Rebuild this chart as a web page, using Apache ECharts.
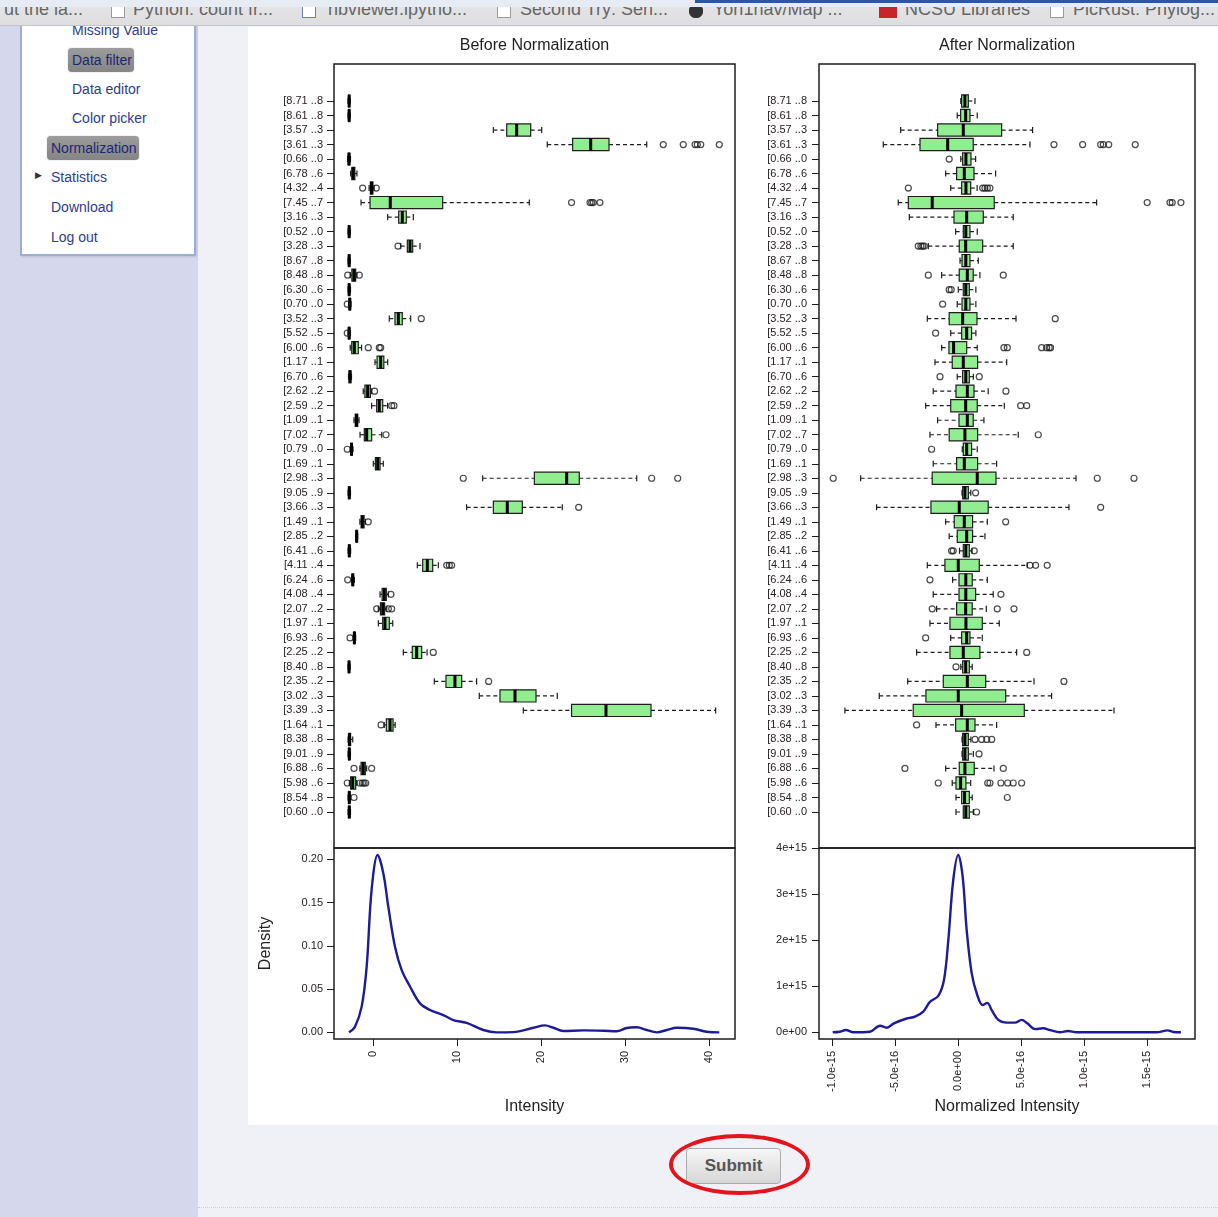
<!DOCTYPE html>
<html>
<head>
<meta charset="utf-8">
<title>Normalization</title>
<script src="https://cdn.jsdelivr.net/npm/echarts@6/dist/echarts.min.js"></script>
<style>
  body { margin: 0; width: 1218px; height: 1217px; overflow: hidden; font-family: "Liberation Sans", Arial, sans-serif; background: #eff1f6; position: relative; }
  .abs { position: absolute; }
  #topbar { left: 0; top: 0; width: 1218px; height: 25px; background: linear-gradient(#e6e6e8, #dedee0); border-bottom: 1px solid #c4c5ca; overflow: hidden; z-index: 5; }
  #topbar span { position: absolute; top: 0; font-size: 18px; line-height: 18px; color: #666; white-space: nowrap; }
  #topbar i { position: absolute; top: 4px; width: 12px; height: 12px; border: 1px solid #9a9a9a; background: #fff; }
  #veil { left: 0; top: 0; width: 1218px; height: 7px; background: #e7ebf3; }
  #sidebar { left: 0; top: 26px; width: 198px; height: 1191px; background: #d5d8ec; }
  #panel { left: 20px; top: -10px; width: 172px; height: 238px; background: #fff; border: 2px solid #9cafd2; border-top: none; box-shadow: 1px 1px 2px #b8bfd8; }
  .menu { position: absolute; font-size: 14px; color: #2d3c96; white-space: nowrap; line-height: 16px; }
  .hl { position: absolute; background: linear-gradient(#9c9c9c, #858585); border-radius: 4px; box-shadow: 0 0 1px #777; }
  #chart { left: 248px; top: 27px; width: 970px; height: 1098px; background: #fff; }
  #submit { left: 686px; top: 1148px; width: 93px; height: 34px; border: 1px solid #ababab; border-radius: 4px; background: linear-gradient(#f7f7f7, #d6d6d6); font-size: 17px; font-weight: bold; color: #555; text-align: center; line-height: 34px; }
  #ring { left: 669px; top: 1134px; width: 133px; height: 53px; border: 4px solid #e3141b; border-radius: 50%; }
  #foot { left: 198px; top: 1207px; width: 1020px; height: 0; border-top: 1px dotted #c9cdd6; }
</style>
</head>
<body>
<div id="sidebar" class="abs">
  <div id="panel" class="abs"></div>
</div>
<div class="hl" style="left:68px;top:48px;width:66px;height:24px;"></div>
<div class="hl" style="left:47px;top:136px;width:92px;height:24px;"></div>
<div class="menu" style="left:72px;top:22px;">Missing Value</div>
<div class="menu" style="left:72px;top:52px;color:#1c2778;">Data filter</div>
<div class="menu" style="left:72px;top:81px;">Data editor</div>
<div class="menu" style="left:72px;top:110px;">Color picker</div>
<div class="menu" style="left:51px;top:140px;color:#1c2778;">Normalization</div>
<div class="menu" style="left:35px;top:167px;font-size:9px;color:#333;">&#9654;</div>
<div class="menu" style="left:51px;top:169px;">Statistics</div>
<div class="menu" style="left:51px;top:199px;">Download</div>
<div class="menu" style="left:51px;top:229px;">Log out</div>

<div id="topbar" class="abs">
  <span style="left:4px;">ut the la...</span>
  <i style="left:111px;"></i>
  <span style="left:133px;">Python: count fr...</span>
  <i style="left:302px;border-color:#6a7fb0;"></i>
  <span style="left:328px;">nbviewer.ipytho...</span>
  <i style="left:497px;"></i>
  <span style="left:520px;">Second Try: Sen...</span>
  <i style="left:689px;background:#333;border-color:#333;border-radius:6px;"></i>
  <span style="left:713px;">Yon1hav/Map ...</span>
  <i style="left:879px;width:16px;background:#c8242a;border-color:#c8242a;"></i>
  <span style="left:905px;">NCSU Libraries</span>
  <i style="left:1050px;"></i>
  <span style="left:1073px;">PicRust: Phylog...</span>
  <div id="veil" class="abs"></div>
  <div class="abs" style="left:695px;top:0;width:523px;height:3px;background:#2b57a6;"></div>
</div>

<div id="chart" class="abs"></div>
<div id="submit" class="abs">Submit</div>
<div id="ring" class="abs"></div>
<div id="foot" class="abs"></div>

<script type="text/javascript">
// probe labels, top to bottom
var categories = ['[8.71 ..8','[8.61 ..8','[3.57 ..3','[3.61 ..3','[0.66 ..0','[6.78 ..6','[4.32 ..4','[7.45 ..7','[3.16 ..3','[0.52 ..0',
  '[3.28 ..3','[8.67 ..8','[8.48 ..8','[6.30 ..6','[0.70 ..0','[3.52 ..3','[5.52 ..5','[6.00 ..6','[1.17 ..1','[6.70 ..6',
  '[2.62 ..2','[2.59 ..2','[1.09 ..1','[7.02 ..7','[0.79 ..0','[1.69 ..1','[2.98 ..3','[9.05 ..9','[3.66 ..3','[1.49 ..1',
  '[2.85 ..2','[6.41 ..6','[4.11 ..4','[6.24 ..6','[4.08 ..4','[2.07 ..2','[1.97 ..1','[6.93 ..6','[2.25 ..2','[8.40 ..8',
  '[2.35 ..2','[3.02 ..3','[3.39 ..3','[1.64 ..1','[8.38 ..8','[9.01 ..9','[6.88 ..6','[5.98 ..6','[8.54 ..8','[0.60 ..0'];

// before normalization: [min, q1, median, q3, max]
var beforeBoxes = [
  [-3.0,-2.95,-2.88,-2.8,-2.75], [-3.0,-2.95,-2.88,-2.8,-2.75], [14.29,15.88,17.07,18.74,20.05], [20.71,23.73,25.88,28.06,32.55],
  [-3.05,-2.98,-2.9,-2.8,-2.72], [-2.7,-2.55,-2.4,-2.2,-1.95], [-0.5,-0.35,-0.2,-0.05,0.1], [-1.46,-0.39,2.02,8.26,18.57],
  [1.71,3.02,3.45,3.93,4.76], [-3.0,-2.95,-2.88,-2.8,-2.75], [3.26,4.05,4.37,4.69,5.56], [-3.0,-2.95,-2.88,-2.8,-2.75],
  [-2.75,-2.55,-2.3,-2.1,-1.95], [-3.0,-2.95,-2.88,-2.8,-2.72], [-2.95,-2.88,-2.8,-2.72,-2.65], [1.9,2.58,2.98,3.45,4.45],
  [-3.0,-2.95,-2.88,-2.8,-2.72], [-2.75,-2.57,-2.26,-1.79,-1.4], [0.2,0.45,0.88,1.25,1.71], [-2.95,-2.88,-2.77,-2.68,-2.6],
  [-1.2,-1.0,-0.67,-0.35,-0.2], [-0.2,0.4,0.71,1.12,1.7], [-2.3,-2.15,-2.0,-1.85,-1.7], [-1.58,-1.07,-0.79,-0.2,1.0],
  [-2.75,-2.68,-2.6,-2.5,-2.42], [0.0,0.25,0.52,0.8,1.19], [13.02,19.17,23.02,24.52,31.36], [-3.0,-2.95,-2.86,-2.78,-2.72],
  [11.11,14.29,15.95,17.74,22.5], [-1.6,-1.45,-1.3,-1.1,-0.95], [-2.1,-2.05,-1.98,-1.92,-1.86], [-3.0,-2.95,-2.86,-2.78,-2.7],
  [5.24,5.88,6.43,7.07,7.74], [-2.6,-2.52,-2.45,-2.35,-2.25], [0.8,1.05,1.31,1.55,1.8], [0.6,0.85,1.12,1.35,1.6],
  [0.6,1.12,1.39,1.9,2.31], [-2.4,-2.32,-2.26,-2.18,-2.1], [3.57,4.64,5.16,5.76,6.4], [-3.0,-2.96,-2.89,-2.82,-2.76],
  [7.26,8.65,9.72,10.52,12.3], [12.62,15.08,16.87,19.37,21.9], [17.86,23.6,27.7,33.06,40.76], [1.3,1.55,1.99,2.35,2.6],
  [-3.0,-2.92,-2.85,-2.7,-2.45], [-3.0,-2.95,-2.86,-2.78,-2.72], [-1.6,-1.46,-1.2,-0.95,-0.79], [-2.85,-2.7,-2.45,-2.1,-1.98],
  [-3.0,-2.95,-2.86,-2.78,-2.7], [-3.0,-2.95,-2.86,-2.78,-2.72]
];
var beforeOutliers = [
  [], [], [], [34.52,36.9,38.3,38.57,38.98,41.19], [], [], [-1.27,0.35], [23.6,25.8,26.0,26.19,26.98], [], [],
  [2.94], [], [-3.05,-1.67], [], [-3.1], [5.71], [-3.1], [-0.6,0.71,0.88], [], [],
  [0.15], [2.19,2.46], [], [1.51], [-3.1], [], [10.71,33.14,36.24], [], [24.45], [-0.6],
  [], [], [8.74,9.05,9.33], [-3.05], [2.1], [0.4,1.79,2.19], [], [-2.77], [7.14], [],
  [13.73], [], [], [0.92], [], [], [-2.3,-0.2], [-3.1,-1.58,-1.3,-1.1,-0.9], [-2.3], []
];

// after normalization, in units of 1e-16
var afterBoxes = [
  [0.2,0.27,0.53,0.8,1.33], [-0.08,0.19,0.59,0.93,1.51], [-4.58,-1.64,0.4,3.45,5.91], [-5.96,-3.04,-0.84,1.19,5.7],
  [0.2,0.35,0.61,1.01,1.38], [-1.0,-0.13,0.48,1.25,2.97], [-0.6,0.27,0.61,0.99,1.5], [-4.77,-3.97,-2.07,2.86,11.0],
  [-3.89,-0.34,0.67,1.99,4.37], [-0.21,0.4,0.6,0.93,1.51], [-2.38,0.08,0.59,1.94,4.37], [0.14,0.3,0.6,0.93,1.59],
  [-1.32,0.08,0.72,1.19,1.72], [0.0,0.4,0.6,0.88,1.4], [-0.08,0.3,0.6,0.93,1.4], [-2.46,-0.72,0.35,1.49,4.59],
  [-0.6,0.27,0.67,1.06,1.4], [-1.32,-0.74,-0.37,0.67,1.51], [-1.85,-0.48,0.4,1.54,3.85], [-0.08,0.35,0.6,0.88,1.2],
  [-1.99,-0.18,0.72,1.25,2.38], [-2.59,-0.6,0.59,1.51,3.66], [-1.64,0.06,0.72,1.19,2.04], [-2.25,-0.72,0.53,1.54,4.77],
  [0.32,0.4,0.67,1.06,1.51], [-1.99,-0.13,0.48,1.54,3.05], [-7.76,-2.07,1.51,3.0,9.36], [0.3,0.35,0.53,0.8,1.0],
  [-6.49,-2.17,0.08,2.38,8.8], [-1.0,-0.32,0.48,1.14,2.31], [-0.72,-0.08,0.67,1.14,2.12], [0.1,0.4,0.6,0.88,1.1],
  [-2.46,-1.06,0.0,1.67,5.49], [-0.45,0.06,0.6,1.11,2.31], [-1.99,0.06,0.6,1.38,2.78], [-1.72,-0.13,0.59,1.11,2.23],
  [-2.25,-0.66,0.61,1.91,3.26], [-0.6,0.27,0.67,0.93,1.91], [-3.31,-0.66,0.4,1.72,4.64], [0.2,0.35,0.59,0.88,1.11],
  [-4.02,-1.19,0.72,2.18,6.02], [-6.28,-2.57,0.0,3.77,7.42], [-9.01,-3.58,0.27,5.25,12.38], [-1.77,-0.21,0.72,1.33,3.05],
  [0.3,0.35,0.53,0.8,1.0], [0.3,0.35,0.53,0.8,1.2], [-1.0,0.08,0.53,1.27,2.84], [-0.48,-0.18,0.19,0.61,0.99],
  [-0.18,0.27,0.5,0.88,1.11], [-0.18,0.4,0.6,0.88,1.2]
];
var afterOutliers = [
  [], [], [], [7.61,9.89,11.32,11.53,11.96,14.07], [-0.72], [], [-3.97,1.94,2.12,2.31,2.52], [15.02,16.83,17.01,17.7], [], [],
  [-3.18,-2.97,-2.83,-2.7], [], [-2.38,3.58], [-0.72,-0.56], [-1.24], [7.71], [-1.8], [3.63,3.9,6.63,7.03,7.23,7.34], [], [-1.45,1.67],
  [3.79], [4.96,5.44], [], [6.36], [-2.12], [], [-9.94,11.05,13.97], [1.38], [11.32], [3.77],
  [], [-0.53,-0.4,1.27], [5.7,6.15,7.07], [-2.25], [3.39], [-2.07,3.1,4.43], [], [-2.59], [5.44], [-0.18],
  [8.4], [], [], [-3.31], [1.33,1.86,2.26,2.66], [1.65], [-4.24,3.58], [-1.59,2.34,2.52,3.39,3.93,4.37,5.04], [3.9], [1.46]
];

// density curves
var beforeDensityX = [-2.89,-2.18,-1.38,-0.79,-0.2,0.52,1.19,1.79,2.58,3.38,4.37,5.56,6.75,8.33,9.52,11.11,13.1,14.69,16.67,
  19.05,20.44,21.43,22.62,25.0,27.38,28.97,30.16,31.35,32.55,33.74,34.93,36.12,38.1,39.69,41.19];
var beforeDensityY = [0.0,0.0065,0.03,0.076,0.165,0.205,0.184,0.145,0.099,0.072,0.053,0.0335,0.0258,0.02,0.0142,0.011,0.0027,0.0,0.0003,
  0.0053,0.008,0.0053,0.0015,0.0023,0.0019,0.0012,0.005,0.0058,0.0027,0.0,0.0027,0.0053,0.0042,0.0007,0.0];
var afterDensityX = [-9.98,-9.4,-8.93,-8.35,-7.02,-6.22,-5.69,-5.11,-4.1,-3.44,-2.78,-2.25,-1.59,-1.14,-0.79,-0.4,0,0.35,0.67,
  1.07,1.51,1.94,2.31,2.66,3.18,3.85,4.51,5.04,5.49,6.1,6.76,7.29,8.08,8.74,9.41,15.77,16.65,17.09,17.7];
var afterDensityY = [0,0.013,0.05,0,0.013,0.143,0.1,0.195,0.3,0.34,0.45,0.66,0.79,1.13,2.0,3.3,3.85,3.38,2.22,
  1.28,0.81,0.59,0.64,0.48,0.27,0.21,0.21,0.27,0.195,0.07,0.087,0.05,0,0.03,0,0,0.043,0.007,0];

// tick values
var beforeTicks = [0, 10, 20, 30, 40];
var beforeDensityTicks = [0, 0.05, 0.1, 0.15, 0.2];
var afterTicks = [-10, -5, 0, 5, 10, 15];          // x 1e-16
var afterDensityTicks = [0, 1, 2, 3, 4];           // x 1e15

var INK = '#1e1e1e', GREEN = '#90ee90', NAVY = '#1c1c96';
var FONT = '"Liberation Sans", Arial, sans-serif';

function sci(v, digits) {
  return v.toExponential(digits).replace(/e([+-])(\d)$/, 'e$10$2');
}

function renderBox(params, api) {
  var idx = api.value(0);
  var lo = api.coord([api.value(1), idx]);
  var q1 = api.coord([api.value(2), idx]);
  var md = api.coord([api.value(3), idx]);
  var q3 = api.coord([api.value(4), idx]);
  var hi = api.coord([api.value(5), idx]);
  var h = api.size([0, 1])[1] * 0.84;
  var y = lo[1], cap = h * 0.25;
  var dash = { stroke: INK, lineWidth: 1.2, lineDash: [4, 3] };
  var solid = { stroke: INK, lineWidth: 1.2 };
  return {
    type: 'group',
    children: [
      { type: 'line', shape: { x1: lo[0], y1: y, x2: q1[0], y2: y }, style: dash },
      { type: 'line', shape: { x1: q3[0], y1: y, x2: hi[0], y2: y }, style: dash },
      { type: 'line', shape: { x1: lo[0], y1: y - cap, x2: lo[0], y2: y + cap }, style: solid },
      { type: 'line', shape: { x1: hi[0], y1: y - cap, x2: hi[0], y2: y + cap }, style: solid },
      { type: 'rect', shape: { x: q1[0], y: y - h / 2, width: q3[0] - q1[0], height: h }, style: { fill: GREEN, stroke: INK, lineWidth: 1.2 } },
      { type: 'line', shape: { x1: md[0], y1: y - h / 2, x2: md[0], y2: y + h / 2 }, style: { stroke: '#000', lineWidth: 3 } }
    ]
  };
}

function boxRows(boxes) {
  return boxes.map(function (b, i) { return [i].concat(b); });
}
function outlierPoints(outs) {
  var pts = [];
  outs.forEach(function (list, i) { list.forEach(function (v) { pts.push([v, i]); }); });
  return pts;
}
function pairs(xs, ys) {
  return xs.map(function (x, i) { return [x, ys[i]]; });
}

var bMin = -4.68, bMax = 43.06, aMin = -11.07, aMax = 18.82;

var frame = { show: true, borderColor: INK, borderWidth: 1.5, backgroundColor: 'transparent', outerBoundsMode: 'none' };
function g(left, top, width, height, framed) {
  var o = { left: left, top: top, width: width, height: height, outerBoundsMode: 'none' };
  if (framed) { for (var k in frame) o[k] = frame[k]; }
  return o;
}

var labelStyle = { fontSize: 11, color: '#2a2222', fontFamily: FONT };
var tick = { show: true, inside: false, length: 7, lineStyle: { color: INK, width: 1 } };
var noLine = { show: false, onZero: false };
var nameStyle = { fontSize: 16, color: '#222', fontFamily: FONT };

function hidden(gridIndex, min, max) {
  return { type: 'value', gridIndex: gridIndex, show: false, min: min, max: max, splitLine: { show: false }, axisLine: noLine };
}
function catAxis(gridIndex, margin) {
  return {
    type: 'category', gridIndex: gridIndex, data: categories, inverse: true,
    axisLine: noLine,
    axisTick: { show: true, alignWithLabel: true, length: 7, lineStyle: { color: INK } },
    axisLabel: Object.assign({ margin: margin, interval: 0 }, labelStyle),
    splitLine: { show: false }
  };
}

var myChart = echarts.init(document.getElementById('chart'));
var option = {
  animation: false,
  backgroundColor: '#fff',
  grid: [
    g(86, 37, 401, 784, true),
    g(86, 66.75, 401, 725.5, false),
    g(86, 821, 401, 191, true),
    g(571, 37, 376, 784, true),
    g(571, 66.75, 376, 725.5, false),
    g(571, 821, 376, 191, true)
  ],
  xAxis: [
    hidden(0, 0, 1),
    hidden(1, bMin, bMax),
    {
      type: 'value', gridIndex: 2, min: bMin, max: bMax, position: 'bottom',
      axisLine: noLine, splitLine: { show: false },
      axisTick: Object.assign({ customValues: beforeTicks }, tick),
      axisLabel: Object.assign({ customValues: beforeTicks, rotate: 90, margin: 12, formatter: function (v) { return String(v); } }, labelStyle),
      name: 'Intensity', nameLocation: 'middle', nameGap: 60, nameTextStyle: nameStyle
    },
    hidden(3, 0, 1),
    hidden(4, aMin, aMax),
    {
      type: 'value', gridIndex: 5, min: aMin, max: aMax, position: 'bottom',
      axisLine: noLine, splitLine: { show: false },
      axisTick: Object.assign({ customValues: afterTicks }, tick),
      axisLabel: Object.assign({ customValues: afterTicks, rotate: 90, margin: 12, formatter: function (v) { return sci(v * 1e-16, 1); } }, labelStyle),
      name: 'Normalized Intensity', nameLocation: 'middle', nameGap: 60, nameTextStyle: nameStyle
    }
  ],
  yAxis: [
    hidden(0, 0, 1),
    catAxis(1, 11),
    {
      type: 'value', gridIndex: 2, min: -0.0077, max: 0.2131, position: 'left',
      axisLine: noLine, splitLine: { show: false },
      axisTick: Object.assign({ customValues: beforeDensityTicks }, tick),
      axisLabel: Object.assign({ customValues: beforeDensityTicks, margin: 11, formatter: function (v) { return v.toFixed(2); } }, labelStyle),
      name: 'Density', nameLocation: 'middle', nameGap: 60, nameRotate: 90, nameTextStyle: nameStyle
    },
    hidden(3, 0, 1),
    catAxis(4, 12),
    {
      type: 'value', gridIndex: 5, min: -0.145, max: 4.0, position: 'left',
      axisLine: noLine, splitLine: { show: false },
      axisTick: Object.assign({ customValues: afterDensityTicks }, tick),
      axisLabel: Object.assign({ customValues: afterDensityTicks, margin: 12, formatter: function (v) { return sci(v * 1e15, 0); } }, labelStyle)
    }
  ],
  graphic: [
    { type: 'text', x: 286.5, y: 19, style: { text: 'Before Normalization', align: 'center', verticalAlign: 'middle', font: '16px ' + FONT, fill: '#222' } },
    { type: 'text', x: 759, y: 19, style: { text: 'After Normalization', align: 'center', verticalAlign: 'middle', font: '16px ' + FONT, fill: '#222' } }
  ],
  series: [
    { type: 'custom', xAxisIndex: 1, yAxisIndex: 1, renderItem: renderBox, encode: { x: [1, 2, 3, 4, 5], y: 0 }, data: boxRows(beforeBoxes), clip: false },
    { type: 'scatter', xAxisIndex: 1, yAxisIndex: 1, symbol: 'circle', symbolSize: 6, data: outlierPoints(beforeOutliers),
      itemStyle: { color: 'rgba(255,255,255,0)', borderColor: INK, borderWidth: 1.2 } },
    { type: 'line', xAxisIndex: 2, yAxisIndex: 2, data: pairs(beforeDensityX, beforeDensityY), smooth: 0.35, showSymbol: false,
      lineStyle: { color: NAVY, width: 2.4 } },
    { type: 'custom', xAxisIndex: 4, yAxisIndex: 4, renderItem: renderBox, encode: { x: [1, 2, 3, 4, 5], y: 0 }, data: boxRows(afterBoxes), clip: false },
    { type: 'scatter', xAxisIndex: 4, yAxisIndex: 4, symbol: 'circle', symbolSize: 6, data: outlierPoints(afterOutliers),
      itemStyle: { color: 'rgba(255,255,255,0)', borderColor: INK, borderWidth: 1.2 } },
    { type: 'line', xAxisIndex: 5, yAxisIndex: 5, data: pairs(afterDensityX, afterDensityY), smooth: 0.35, showSymbol: false,
      lineStyle: { color: NAVY, width: 2.4 } }
  ]
};
myChart.setOption(option);
</script>
</body>
</html>
